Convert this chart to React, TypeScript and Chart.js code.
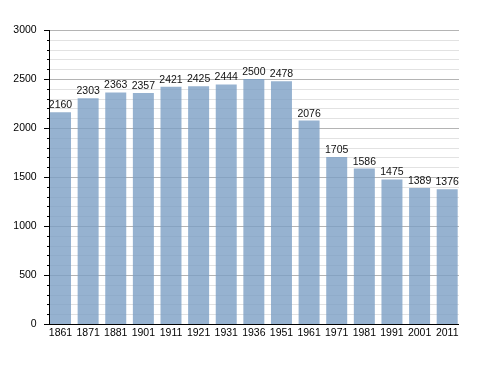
import React, { useEffect, useRef } from "react";
import { Chart, registerables } from "chart.js";

Chart.register(...registerables);

const categories = ["1861", "1871", "1881", "1901", "1911", "1921", "1931", "1936", "1951", "1961", "1971", "1981", "1991", "2001", "2011"];
const population = [2160, 2303, 2363, 2357, 2421, 2425, 2444, 2500, 2478, 2076, 1705, 1586, 1475, 1389, 1376];
const yMin = 0;
const yMax = 3000;
const majorStep = 500;
const minorStep = 100;

const FONT = "'Liberation Sans', Arial, sans-serif";
const FONT_SIZE = 10.5;

const gridPlugin = {
  id: "customGrid",
  beforeDatasetsDraw(chart: any) {
    const { ctx, scales } = chart;
    const y = scales.y;
    const left = 50;
    const right = 459;
    ctx.save();
    for (let v = yMin; v <= yMax; v += minorStep) {
      const py = Math.round(y.getPixelForValue(v)) + 0.5;
      const major = v % majorStep === 0;
      ctx.strokeStyle = major ? "#b4b4b4" : "#e2e2e2";
      ctx.lineWidth = 1;
      ctx.beginPath();
      ctx.moveTo(left, py);
      ctx.lineTo(right, py);
      ctx.stroke();
    }
    ctx.restore();
  },
  afterDatasetsDraw(chart: any) {
    const { ctx, scales } = chart;
    const y = scales.y;
    const axisX = 50;
    const right = 459;
    ctx.save();
    ctx.strokeStyle = "#000";
    ctx.lineWidth = 1;
    for (let v = yMin; v <= yMax; v += minorStep) {
      const py = Math.round(y.getPixelForValue(v)) + 0.5;
      const major = v % majorStep === 0;
      ctx.beginPath();
      ctx.moveTo(axisX - (major ? 6 : 3), py);
      ctx.lineTo(axisX, py);
      ctx.stroke();
    }
    const top = Math.round(y.getPixelForValue(yMax));
    const bottom = Math.round(y.getPixelForValue(yMin)) + 0.5;
    ctx.beginPath();
    ctx.moveTo(axisX - 0.5, top);
    ctx.lineTo(axisX - 0.5, bottom);
    ctx.stroke();
    ctx.beginPath();
    ctx.moveTo(axisX - 0.5, bottom);
    ctx.lineTo(right, bottom);
    ctx.stroke();

    const meta = chart.getDatasetMeta(0);
    ctx.fillStyle = "#111";
    ctx.font = `${FONT_SIZE}px ${FONT}`;
    ctx.textAlign = "center";
    ctx.textBaseline = "alphabetic";
    meta.data.forEach((bar: any, i: number) => {
      ctx.fillText(String(population[i]), bar.x, bar.y - 4);
    });
    ctx.restore();
  },
};

export default function App() {
  const canvasRef = useRef<HTMLCanvasElement>(null);

  useEffect(() => {
    if (!canvasRef.current) return;
    const chart = new Chart(canvasRef.current, {
      type: "bar",
      data: {
        labels: categories,
        datasets: [
          {
            data: population,
            backgroundColor: "rgba(124,159,196,0.8)",
            borderWidth: 0,
            categoryPercentage: 1,
            barPercentage: 0.76,
          },
        ],
      },
      options: {
        animation: false,
        responsive: false,
        maintainAspectRatio: false,
        layout: { padding: { top: 30, right: 27, left: 0, bottom: 0 } },
        plugins: {
          legend: { display: false },
          tooltip: { enabled: false },
          title: { display: false },
        },
        scales: {
          x: {
            type: "category",
            offset: true,
            grid: { display: false, drawTicks: false },
            border: { display: false },
            ticks: {
              color: "#000",
              font: { family: FONT, size: FONT_SIZE },
              padding: 3,
              maxRotation: 0,
              autoSkip: false,
            },
            afterFit: (s: any) => {
              s.height = 49;
            },
          },
          y: {
            min: yMin,
            max: yMax,
            grid: { display: false, drawTicks: false },
            border: { display: false },
            ticks: {
              stepSize: majorStep,
              color: "#000",
              font: { family: FONT, size: FONT_SIZE },
              padding: 10,
              callback: (v: any) => String(v),
            },
            afterFit: (s: any) => {
              s.width = 46.7;
            },
          },
        },
      },
      plugins: [gridPlugin],
    });
    return () => chart.destroy();
  }, []);

  return (
    <div style={{ position: "absolute", left: 0, top: 0, width: 488, height: 373, background: "#fff" }}>
      <canvas ref={canvasRef} width={488} height={373} style={{ display: "block", width: 488, height: 373 }} />
    </div>
  );
}
